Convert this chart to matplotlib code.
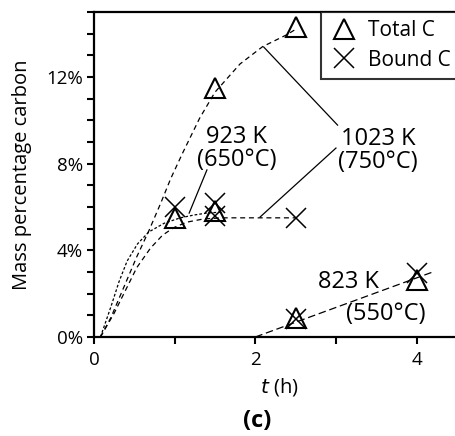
import matplotlib
matplotlib.use("Agg")
import matplotlib.pyplot as plt
from matplotlib.ticker import MultipleLocator
from matplotlib.lines import Line2D

plt.rcParams['font.family'] = ['Open Sans', 'DejaVu Sans']

# --- data ---
t_total_1023 = [1.5, 2.5]
c_total_1023 = [11.5, 14.3]
t_total_low = [1.0, 1.5]
c_total_low = [5.5, 5.8]
t_bound_1023 = [1.0, 1.5, 1.5, 2.5]
c_bound_1023 = [6.0, 6.2, 5.6, 5.5]
t_total_823 = [2.5, 4.0]
c_total_823 = [0.9, 2.65]
t_bound_823 = [2.5, 4.0]
c_bound_823 = [0.85, 2.95]

# trend curves
curve1_t = [0.08, 0.21, 0.37, 0.53, 0.68, 0.83, 0.95, 1.1, 1.31, 1.5, 1.81, 2.09, 2.39, 2.5]
curve1_c = [0.0, 0.9, 2.3, 3.7, 4.9, 6.2, 7.3, 8.5, 10.1, 11.3, 12.6, 13.4, 13.95, 14.2]
curve2_t = [0.08, 0.15, 0.21, 0.31, 0.41, 0.54, 0.68, 0.87, 1.07, 1.24, 1.4, 1.6]
curve2_c = [0.0, 0.75, 1.4, 2.55, 3.5, 4.3, 4.85, 5.25, 5.5, 5.63, 5.72, 5.77]
curve3_t = [0.08, 0.25, 0.41, 0.53, 0.7, 0.85, 0.99, 1.15, 1.36, 1.6, 2.0, 2.5]
curve3_c = [0.0, 1.1, 2.3, 3.2, 4.1, 4.7, 5.05, 5.3, 5.45, 5.5, 5.5, 5.5]
curve823_t = [2.0, 4.2]
curve823_c = [0.0, 3.0]

# leader lines
lead923_t = [1.40, 1.18]
lead923_c = [7.71, 5.72]
lead1023a_t = [2.105, 3.02]
lead1023a_c = [13.38, 9.78]
lead1023b_t = [3.0, 2.06]
lead1023b_c = [8.72, 5.54]

yticks = [0, 4, 8, 12]
ytick_labels = ['0%', '4%', '8%', '12%']
xticks = [0, 1, 2, 3, 4]
xtick_labels = ['0', '', '2', '', '4']

fig = plt.figure(figsize=(4.56, 4.36), dpi=100)
ax = fig.add_axes([94/456, 99/436, 371/456, 325/436])
ax.set_xlim(0, 4.6)
ax.set_ylim(0, 15)

k = 'black'
ax.plot(curve1_t, curve1_c, color=k, lw=0.9, ls=(0, (4, 3)))
ax.plot(curve2_t, curve2_c, color=k, lw=0.9, ls=(0, (2.2, 1.6)))
ax.plot(curve3_t, curve3_c, color=k, lw=0.9, ls=(0, (4, 3)))
ax.plot(curve823_t, curve823_c, color=k, lw=0.9, ls=(0, (6, 3)))

for lt, lc in [(lead923_t, lead923_c), (lead1023a_t, lead1023a_c), (lead1023b_t, lead1023b_c)]:
    ax.plot(lt, lc, color=k, lw=0.9)

tri = dict(marker='^', ms=14, mfc='none', mec=k, mew=1.5, ls='none')
xm = dict(marker='x', ms=14, mec=k, mew=1.1, ls='none')
ax.plot(t_total_1023, c_total_1023, **tri)
ax.plot(t_total_low, c_total_low, **tri)
ax.plot(t_total_823, c_total_823, **tri)
ax.plot(t_bound_1023, c_bound_1023, **xm)
ax.plot(t_bound_823, c_bound_823, **xm)

ax.text(1.77, 8.68, '923 K\n(650°C)', fontsize=17, ha='center', va='center', linespacing=0.95)
ax.text(3.52, 8.62, '1023 K\n(750°C)', fontsize=17, ha='center', va='center', linespacing=0.95)
ax.text(3.15, 2.54, '823 K', fontsize=17, ha='center', va='center')
ax.text(3.62, 1.06, '(550°C)', fontsize=17, ha='center', va='center')

for s in ['left', 'bottom', 'top']:
    ax.spines[s].set_linewidth(1.6)
ax.spines['right'].set_visible(False)

ax.set_yticks(yticks)
ax.set_yticklabels(ytick_labels)
ax.yaxis.set_minor_locator(MultipleLocator(1))
ax.set_xticks(xticks)
ax.set_xticklabels(xtick_labels)
ax.tick_params(axis='both', which='both', direction='out', length=5, width=1.5, labelsize=13.5)
ax.tick_params(axis='x', pad=5)
ax.tick_params(axis='y', pad=3)

ax.set_ylabel('Mass percentage carbon', fontsize=14.5, labelpad=10)
ax.set_xlabel(r'$\it{t}$ (h)', fontsize=14.5, labelpad=5)
fig.text(257/456, 1 - 421/436, '(c)', fontsize=17, fontweight='bold', ha='center', va='center')

handles = [Line2D([], [], **tri), Line2D([], [], **xm)]
leg = fig.legend(handles, ['Total C', 'Bound C'], loc='upper left',
                 bbox_to_anchor=(321/456, 1 - 12/436), borderaxespad=0,
                 fontsize=15, frameon=True, fancybox=False, handlelength=1.4,
                 handletextpad=0.45, labelspacing=0.4, borderpad=0.4)
leg.get_frame().set_edgecolor(k)
leg.get_frame().set_linewidth(1.5)

fig.savefig('out.png', dpi=100)
